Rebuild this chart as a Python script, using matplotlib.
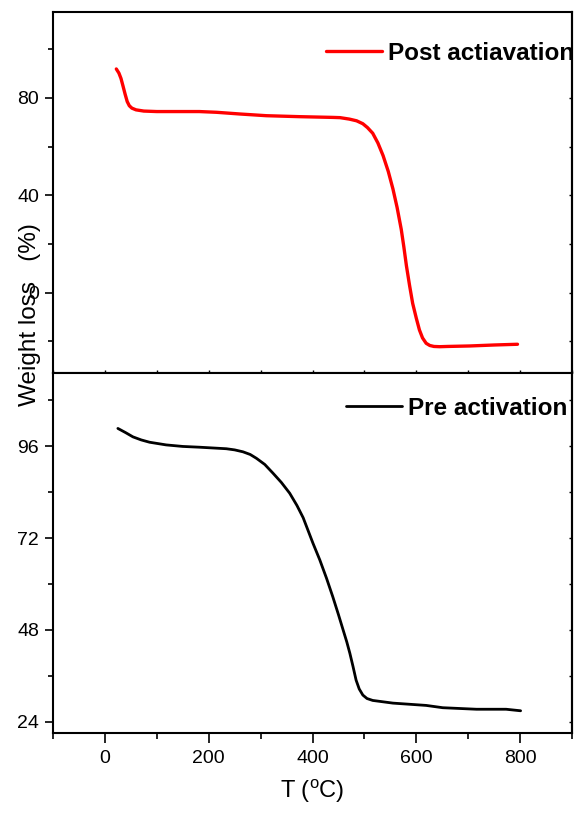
import matplotlib
matplotlib.use("Agg")
import matplotlib.pyplot as plt
from matplotlib.ticker import MultipleLocator

plt.rcParams['font.family'] = ['Liberation Sans', 'DejaVu Sans']

# TGA curves (temperature in degC, weight in %)
T_post = [22, 27, 31, 35, 39, 43, 47, 52, 60, 75, 100, 130, 182, 215, 260,
          311, 375, 439, 453, 471, 485, 497, 506, 516, 526, 536, 546, 555,
          563, 571, 576, 581, 587, 593, 600, 606, 612, 619, 626, 634, 645,
          660, 703, 750, 795]
wt_post = [91.9, 90.2, 88.0, 84.8, 81.5, 78.5, 76.8, 75.8, 75.1, 74.6, 74.4,
           74.4, 74.4, 74.1, 73.4, 72.7, 72.3, 72.0, 71.9, 71.3, 70.6, 69.4,
           67.8, 65.5, 61.5, 56.3, 49.8, 42.6, 35.0, 26.0, 18.8, 11.0, 3.0,
           -4.4, -10.5, -15.3, -18.6, -20.8, -21.7, -22.1, -22.2, -22.1,
           -21.9, -21.5, -21.2]

T_pre = [25, 40, 54, 70, 86, 118, 150, 182, 234, 250, 266, 280, 292, 308,
         324, 340, 356, 370, 382, 401, 414, 427, 439, 450, 459, 466, 472,
         478, 484, 490, 497, 505, 516, 555, 587, 619, 651, 716, 773, 801]
wt_pre = [100.6, 99.5, 98.4, 97.6, 97.0, 96.3, 95.9, 95.7, 95.3, 95.0, 94.5,
          93.8, 92.8, 91.2, 88.9, 86.5, 83.7, 80.5, 77.3, 70.6, 66.3, 61.5,
          56.7, 52.0, 48.0, 44.9, 41.9, 38.5, 34.9, 32.6, 31.0, 30.1, 29.6,
          28.9, 28.6, 28.3, 27.7, 27.3, 27.3, 26.9]

labels = ["Post actiavation", "Pre activation"]

W, H = 579, 818
fig = plt.figure(figsize=(W / 100, H / 100), dpi=100)
left, right = 53 / W, 572 / W
ax1 = fig.add_axes([left, 1 - 372.5 / H, right - left, 360.5 / H])
ax2 = fig.add_axes([left, 1 - 733 / H, right - left, 360.5 / H])

ax1.plot(T_post, wt_post, color="red", lw=2.4, label=labels[0],
         solid_joinstyle="round", solid_capstyle="round")
ax2.plot(T_pre, wt_pre, color="black", lw=2.0, label=labels[1],
         solid_joinstyle="round", solid_capstyle="round")

ax1.set_ylim(-32.8, 115.3)
ax1.yaxis.set_major_locator(MultipleLocator(40))
ax1.yaxis.set_minor_locator(MultipleLocator(20))
ax2.set_ylim(21.1, 115.2)
ax2.yaxis.set_major_locator(MultipleLocator(24))
ax2.yaxis.set_minor_locator(MultipleLocator(12))

for ax in (ax1, ax2):
    ax.set_xlim(-100, 900)
    ax.xaxis.set_major_locator(MultipleLocator(200))
    ax.xaxis.set_minor_locator(MultipleLocator(100))
    for s in ax.spines.values():
        s.set_linewidth(1.5)
    ax.tick_params(axis="y", which="both", left=True, right=False,
                   direction="out", width=1.2, labelsize=14, pad=4)
    ax.tick_params(axis="y", which="major", length=6)
    ax.tick_params(axis="y", which="minor", length=3.5)
    # short inward ticks on the right spine
    sec = ax.secondary_yaxis("right")
    sec.set_yticks(ax.get_yticks())
    sec.yaxis.set_minor_locator(ax.yaxis.get_minor_locator())
    sec.tick_params(which="both", direction="in", length=2.5, width=1,
                    labelright=False)
    sec.spines["right"].set_linewidth(1.5)

ax1.tick_params(axis="x", which="both", direction="in", length=2.5,
                width=1, labelbottom=False)
ax2.tick_params(axis="x", which="both", direction="out", width=1.2,
                labelsize=14, pad=5)
ax2.tick_params(axis="x", which="major", length=7)
ax2.tick_params(axis="x", which="minor", length=4)

ax2.set_xlabel("T ($\\mathregular{^{o}}$C)", fontsize=17, labelpad=8)
fig.text(30 / W, 1 - 315 / H, "Weight loss   (%)", rotation=90,
         fontsize=17.5, ha="center", va="center")

for ax, xa, ya in ((ax1, (326 - 53) / 519, (372.5 - 53) / 360.5),
                   (ax2, (346 - 53) / 519, (733 - 408) / 360.5)):
    leg = ax.legend(loc="center left", bbox_to_anchor=(xa, ya),
                    frameon=False, borderpad=0, borderaxespad=0,
                    handlelength=2.3, handletextpad=0.25,
                    prop={"weight": "bold", "size": 17.5})
    for t in leg.get_texts():
        t.set_clip_on(True)
        t.set_clip_box(ax.bbox)

fig.savefig("out.png", dpi=100)
